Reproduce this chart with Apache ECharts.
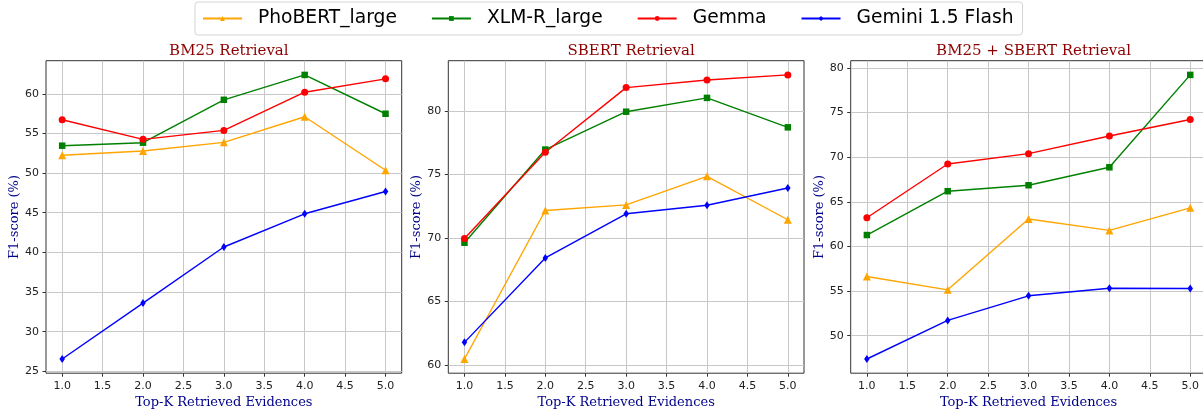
<!DOCTYPE html>
<html><head><meta charset="utf-8">
<script src="https://cdn.jsdelivr.net/npm/echarts@6/dist/echarts.min.js"></script>
<style>html,body{margin:0;padding:0;background:#fff}#c{width:1203px;height:413px}</style>
</head><body><div id="c"></div>
<script>
// ---- data ----
const kValues = [1, 2, 3, 4, 5];
const xTicks = [1.0, 1.5, 2.0, 2.5, 3.0, 3.5, 4.0, 4.5, 5.0];
const panelTitles = ['BM25 Retrieval', 'SBERT Retrieval', 'BM25 + SBERT Retrieval'];
const modelNames = ['PhoBERT_large', 'XLM-R_large', 'Gemma', 'Gemini 1.5 Flash'];

const phobertBM25 = [52.25, 52.79, 53.88, 57.11, 50.36];
const xlmrBM25    = [53.46, 53.84, 59.25, 62.39, 57.49];
const gemmaBM25   = [56.73, 54.26, 55.39, 60.21, 61.89];
const geminiBM25  = [26.55, 33.60, 40.68, 44.87, 47.68];

const phobertSBERT = [60.47, 72.17, 72.61, 74.86, 71.44];
const xlmrSBERT    = [69.63, 76.97, 79.95, 81.04, 78.72];
const gemmaSBERT   = [69.97, 76.76, 81.85, 82.45, 82.85];
const geminiSBERT  = [61.78, 68.43, 71.91, 72.58, 73.94];

const phobertHybrid = [56.63, 55.14, 63.07, 61.80, 64.33];
const xlmrHybrid    = [61.28, 66.19, 66.86, 68.87, 79.22];
const gemmaHybrid   = [63.22, 69.24, 70.40, 72.37, 74.23];
const geminiHybrid  = [47.39, 51.71, 54.47, 55.32, 55.29];

const yTicksBM25   = [25, 30, 35, 40, 45, 50, 55, 60];
const yTicksSBERT  = [60, 65, 70, 75, 80];
const yTicksHybrid = [50, 55, 60, 65, 70, 75, 80];

// ---- layout / style ----
const panels = [
  { left: 46,    data: [phobertBM25, xlmrBM25, gemmaBM25, geminiBM25], yTicks: yTicksBM25 },
  { left: 448.3, data: [phobertSBERT, xlmrSBERT, gemmaSBERT, geminiSBERT], yTicks: yTicksSBERT },
  { left: 850.7, data: [phobertHybrid, xlmrHybrid, gemmaHybrid, geminiHybrid], yTicks: yTicksHybrid }
];
const colors = ['#FFA500', '#008000', '#FF0000', '#0000FF'];
const symbols = ['triangle', 'rect', 'circle', 'diamond'];
const symbolSizes = [8, 6.5, 7, [5.5, 8]];
const gridTop = 60.7, gridH = 312.5, gridW = 355.7;
const gridColor = '#c8c8c8';

const grids = [], xAxes = [], yAxes = [], series = [], titles = [];
panels.forEach((p, i) => {
  grids.push({ left: p.left, top: gridTop, width: gridW, height: gridH, show: true,
    borderColor: '#333', borderWidth: 1, containLabel: false, outerBoundsMode: 'none' });
  const all = [].concat(...p.data);
  const mn = Math.min(...all), mx = Math.max(...all), m = (mx - mn) * 0.05;
  xAxes.push({ type: 'value', gridIndex: i, min: 0.8, max: 5.2,
    name: 'Top-K Retrieved Evidences', nameLocation: 'middle', nameGap: 20,
    nameTextStyle: { fontFamily: 'DejaVu Serif', fontSize: 13, color: '#00008B' },
    axisLine: { show: false },
    axisTick: { show: true, length: 3.5, lineStyle: { color: '#333' }, customValues: xTicks },
    axisLabel: { customValues: xTicks, margin: 7, fontFamily: 'DejaVu Sans', fontSize: 11, color: '#222',
      formatter: v => v.toFixed(1) },
    splitLine: { show: true, lineStyle: { color: gridColor, width: 1 } } });
  yAxes.push({ type: 'value', gridIndex: i, min: mn - m, max: mx + m,
    name: 'F1-score (%)', nameLocation: 'middle', nameGap: 24,
    nameTextStyle: { fontFamily: 'DejaVu Serif', fontSize: 13, color: '#00008B' },
    axisLine: { show: false },
    axisTick: { show: true, length: 3.5, lineStyle: { color: '#333' }, customValues: p.yTicks },
    axisLabel: { customValues: p.yTicks, margin: 7, fontFamily: 'DejaVu Sans', fontSize: 11, color: '#222',
      formatter: v => String(Math.round(v)) },
    splitLine: { show: true, lineStyle: { color: gridColor, width: 1 } } });
  titles.push({ text: panelTitles[i], left: p.left + gridW / 2, top: 39, textAlign: 'center',
    textStyle: { fontFamily: 'DejaVu Serif', fontSize: 15, fontWeight: 'normal', color: '#8B0000' } });
  p.data.forEach((vals, j) => {
    series.push({ type: 'line', name: modelNames[j], xAxisIndex: i, yAxisIndex: i,
      data: kValues.map((k, n) => [k, vals[n]]),
      symbol: symbols[j], symbolSize: symbolSizes[j], showAllSymbol: true,
      lineStyle: { color: colors[j], width: 1.4 },
      itemStyle: { color: colors[j], borderWidth: 0 } });
  });
});

const chart = echarts.init(document.getElementById('c'), null, { renderer: 'canvas' });
chart.setOption({
  animation: false,
  backgroundColor: '#fff',
  title: titles,
  legend: { left: 195, top: 2, padding: [5.5, 9, 5.5, 7], itemGap: 34, itemWidth: 39, itemHeight: 6,
    borderColor: '#d5d5d5', borderWidth: 1, borderRadius: 3,
    textStyle: { fontFamily: 'DejaVu Sans', fontSize: 18.7, color: '#000', lineHeight: 22, padding: [0, 0, 0, 11] },
    data: modelNames },
  grid: grids, xAxis: xAxes, yAxis: yAxes, series: series
});
</script></body></html>
